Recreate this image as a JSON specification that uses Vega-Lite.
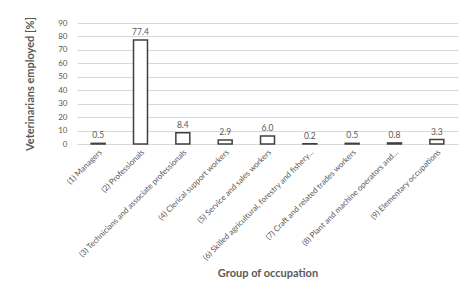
{
  "$schema": "https://vega.github.io/schema/vega-lite/v6.json",
  "autosize": {"type": "none"},
  "padding": {"left": 77, "top": 23, "right": 5, "bottom": 147},
  "width": 381,
  "height": 121,
  "background": "white",
  "config": {
    "font": "Lato",
    "view": {"stroke": null},
    "axis": {"labelColor": "#595959", "titleColor": "#595959", "labelFont": "Lato", "titleFont": "Lato"}
  },
  "data": {
    "values": [
      {"group": "(1) Managers", "pct": 0.5},
      {"group": "(2) Professionals", "pct": 77.4},
      {"group": "(3) Technicians and associate professionals", "pct": 8.4},
      {"group": "(4) Clerical support workers", "pct": 2.9},
      {"group": "(5) Service and sales workers", "pct": 6.0},
      {"group": "(6) Skilled agricultural, forestry and fishery…", "pct": 0.2},
      {"group": "(7) Craft and related trades workers", "pct": 0.5},
      {"group": "(8) Plant and machine operators and…", "pct": 0.8},
      {"group": "(9) Elementary occupations", "pct": 3.3}
    ]
  },
  "encoding": {
    "x": {
      "field": "group", "type": "nominal", "sort": null,
      "scale": {"paddingInner": 0.67, "paddingOuter": 0.335},
      "axis": {
        "title": "Group of occupation", "titleFontSize": 11, "titleFontWeight": "bold",
        "labelAngle": -45, "labelFontSize": 8, "labelLimit": 300, "ticks": false,
        "domainColor": "#d9d9d9", "labelPadding": 4, "titlePadding": 6
      }
    },
    "y": {
      "field": "pct", "type": "quantitative",
      "scale": {"domain": [0, 90]},
      "axis": {
        "title": "Veterinarians employed [%]", "titleFontSize": 11, "titleFontWeight": "bold",
        "values": [0, 10, 20, 30, 40, 50, 60, 70, 80, 90],
        "labelFontSize": 8, "ticks": false, "domain": false,
        "gridColor": "#d9d9d9", "labelPadding": 10, "titlePadding": 22
      }
    }
  },
  "layer": [
    {"mark": {"type": "bar", "fill": "white", "stroke": "#404040", "strokeWidth": 1.5}},
    {
      "mark": {"type": "text", "dy": -8, "fontSize": 8.5, "color": "#595959", "font": "Lato"},
      "encoding": {"text": {"field": "pct", "type": "quantitative", "format": ".1f"}}
    }
  ]
}
